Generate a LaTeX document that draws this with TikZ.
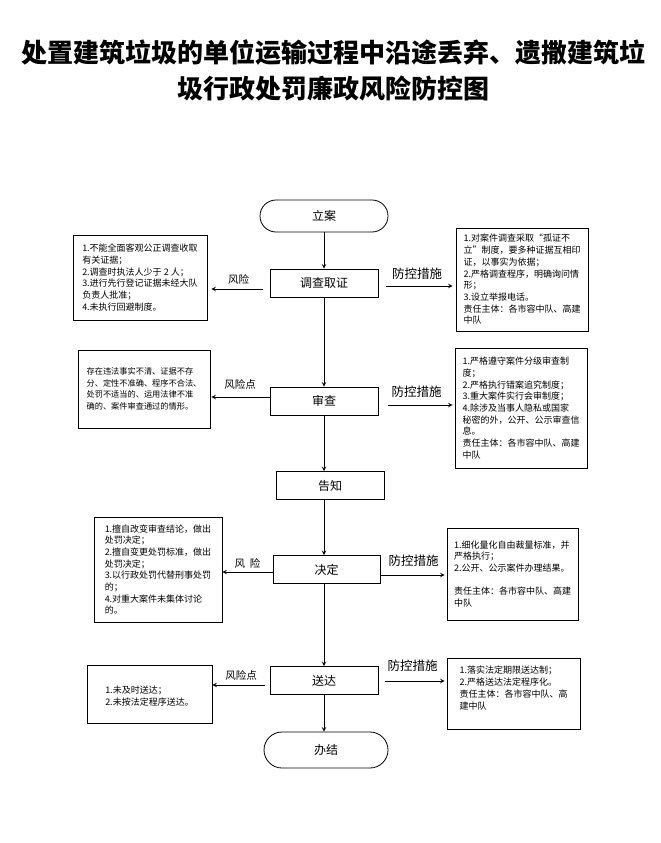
\documentclass[tikz,border=0pt]{standalone}
\usepackage{fontspec}
\setmainfont{Noto Sans CJK SC}
\begin{document}
\begin{tikzpicture}[x=1pt,y=-1pt,>=stealth,
	mainbox/.style={draw,line width=.8pt,minimum width=108pt,minimum height=28pt,inner sep=0pt,font=\fontsize{12}{14}\selectfont},
	endbox/.style={mainbox,rounded corners=16pt,minimum width=128pt,minimum height=32pt},
	notebox/.style={draw,line width=.8pt,align=left,inner sep=0pt,font=\fontsize{9}{11.7}\selectfont},
	risk/.style={font=\fontsize{10.5}{12}\selectfont},
	guard/.style={font=\fontsize{12.5}{14}\selectfont},
	flow/.style={->,line width=1pt}]
	\useasboundingbox (0,0) rectangle (661,843);
	\node[align=center,font=\fontsize{26}{36}\bfseries] (title) at (333,70) {处置建筑垃圾的单位运输过程中沿途丢弃、遗撒建筑垃\\圾行政处罚廉政风险防控图};
	% main steps
	\node[endbox] (la) at (324,216) {立案};
	\node[mainbox] (dc) at (324,283) {调查取证};
	\node[mainbox] (sc) at (324,401) {审查};
	\node[mainbox] (gz) at (330,485.5) {告知};
	\node[mainbox,minimum width=107pt] (jd) at (326.5,569.5) {决定};
	\node[mainbox] (sd) at (324,680.5) {送达};
	\node[endbox,minimum width=124pt,minimum height=36pt,rounded corners=18pt] (bj) at (326,750) {办结};
	\foreach \a/\b in {la/dc,dc/sc,sc/gz,gz/jd,jd/sd,sd/bj}
		\draw[flow] (\a.south -| la) -- (\b.north -| la);
	% risk boxes
	\node[notebox,minimum width=134pt,minimum height=85pt] (l1) at (140,277.5) {1.不能全面客观公正调查收取\\有关证据；\\2.调查时执法人少于 2 人；\\3.进行先行登记证据未经大队\\负责人批准；\\4.未执行回避制度。};
	\node[notebox,minimum width=132pt,minimum height=78pt,font=\fontsize{8.2}{11.7}\selectfont] (l2) at (144,389) {存在违法事实不清、证据不存\\分、定性不准确、程序不合法、\\处罚不适当的、运用法律不准\\确的、案件审查通过的情形。};
	\node[notebox,minimum width=128pt,minimum height=105pt] (l3) at (158,569.5) {1.擅自改变审查结论，做出\\处罚决定；\\2.擅自变更处罚标准，做出\\处罚决定；\\3.以行政处罚代替刑事处罚\\的；\\4.对重大案件未集体讨论\\的。};
	\node[notebox,minimum width=125pt,minimum height=58pt] (l4) at (149.5,694) {\mbox{}\\1.未及时送达；\\2.未按法定程序送达。};
	% measure boxes
	\node[notebox,minimum width=132pt,minimum height=103pt] (r1) at (522,279.5) {1.对案件调查采取“孤证不\\立”制度，要多种证据互相印\\证，以事实为依据；\\2.严格调查程序，明确询问情\\形；\\3.设立举报电话。\\责任主体：各市容中队、高建\\中队};
	\node[notebox,minimum width=132pt,minimum height=120pt] (r2) at (521,408) {1.严格遵守案件分级审查制\\度；\\2.严格执行错案追究制度；\\3.重大案件实行会审制度；\\4.除涉及当事人隐私或国家\\秘密的外，公开、公示审查信\\息。\\责任主体：各市容中队、高建\\中队};
	\node[notebox,minimum width=131pt,minimum height=92pt] (r3) at (512.5,574) {1.细化量化自由裁量标准，并\\严格执行；\\2.公开、公示案件办理结果。\\\mbox{}\\责任主体：各市容中队、高建\\中队};
	\node[notebox,minimum width=133pt,minimum height=71pt] (r4) at (513.5,693.5) {1.落实法定期限送达制；\\2.严格送达法定程序化。\\责任主体：各市容中队、高\\建中队\\\mbox{}};
	% side arrows
	\draw[flow,shorten <=7pt,shorten >=4pt] ([yshift=-6pt]dc.west) coordinate (dcl) -- (dcl -| l1.east) node[midway,above=1pt,risk] {风险};
	\draw[flow,shorten <=8pt,shorten >=3pt] ([yshift=-3pt]dc.east) coordinate (dcr) -- (dcr -| r1.west) node[midway,above=3pt,guard] {防控措施};
	\draw[flow,shorten >=1pt] ([yshift=4pt]sc.west) coordinate (scl) -- (scl -| l2.east) node[midway,above=4pt,risk] {风险点};
	\draw[flow,shorten <=10pt,shorten >=2pt] ([yshift=-4pt]sc.east) coordinate (scr) -- (scr -| r2.west) node[midway,above=4pt,guard] {防控措施};
	\draw[flow] ([yshift=-2.5pt]jd.west) coordinate (jdl) -- (jdl -| l3.east) node[midway,above=0pt,risk] {风\ \ 险};
	\draw[flow,shorten >=2pt] ([yshift=-5.5pt]jd.east) coordinate (jdr) -- (jdr -| r3.west) node[midway,above=5pt,guard] {防控措施};
	\draw[flow,shorten <=5pt] ([yshift=-4.5pt]sd.west) coordinate (sdl) -- (sdl -| l4.east) node[midway,above=1pt,risk] {风险点};
	\draw[flow,shorten <=7pt,shorten >=2pt] ([yshift=-0.5pt]sd.east) coordinate (sdr) -- (sdr -| r4.west) node[midway,above=6pt,guard] {防控措施};
\end{tikzpicture}
\end{document}
